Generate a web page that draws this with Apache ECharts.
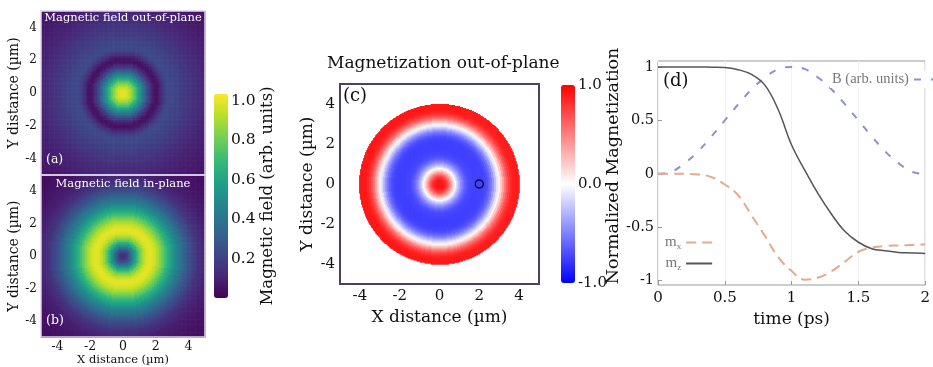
<!DOCTYPE html>
<html><head><meta charset="utf-8">
<script src="https://cdn.jsdelivr.net/npm/echarts@6/dist/echarts.min.js"></script>
<style>html,body{margin:0;padding:0;background:#fff}#c{width:933px;height:367px}</style>
</head><body><div id="c"></div>
<script>
// ---------- data ----------
const posTicks = [-4, -2, 0, 2, 4];
const fieldCbTicks = [0.2, 0.4, 0.6, 0.8, 1.0];
const magCbTicks = [-1, 0, 1];
const timeTicks = [0, 0.5, 1, 1.5, 2];
const magTicks = [-1, -0.5, 0, 0.5, 1];

const radialStep = 0.1;
const fieldOutOfPlane = [1.00,1.00,0.99,0.97,0.94,0.90,0.85,0.79,0.73,0.66,
  0.59,0.52,0.45,0.38,0.32,0.26,0.20,0.15,0.11,0.07,
  0.05,0.05,0.07,0.10,0.14,0.17,0.20,0.22,0.23,0.23,
  0.23,0.22,0.22,0.21,0.21,0.20,0.19,0.19,0.18,0.17,
  0.17,0.16,0.16,0.15,0.14,0.14,0.13,0.13,0.12,0.12,
  0.11,0.11,0.10,0.10,0.10,0.09,0.09,0.09,0.08,0.08,
  0.08,0.08,0.07,0.07,0.07,0.07,0.06,0.06,0.06,0.06,0.06,0.06];
const fieldInPlane = [0.12,0.13,0.16,0.21,0.27,0.35,0.43,0.52,0.60,0.68,
  0.75,0.82,0.87,0.92,0.95,0.98,0.99,1.00,0.99,0.97,
  0.95,0.92,0.89,0.85,0.81,0.77,0.73,0.69,0.65,0.61,
  0.58,0.54,0.50,0.47,0.44,0.41,0.38,0.35,0.32,0.30,
  0.27,0.25,0.23,0.21,0.19,0.17,0.15,0.14,0.13,0.12,
  0.11,0.10,0.09,0.09,0.08,0.08,0.07,0.07,0.06,0.06,
  0.06,0.05,0.05,0.05,0.05,0.04,0.04,0.04,0.04,0.04,0.04,0.04];
const magnetizationZ = [0.92,0.92,0.9,0.83,0.72,0.55,0.35,0.15,-0.02,-0.18,
  -0.33,-0.46,-0.56,-0.64,-0.69,-0.72,-0.73,-0.74,-0.75,-0.75,
  -0.75,-0.75,-0.74,-0.72,-0.68,-0.61,-0.52,-0.4,-0.25,-0.1,
  0.05,0.2,0.38,0.55,0.68,0.78,0.85,0.89,0.9,0.9,0.9];
const diskRadius = 4.0;
const probePoint = [[2, 0]];

// panel (d)
const time = [0,0.1,0.2,0.3,0.4,0.5,0.6,0.7,0.8,0.9,1.0,1.1,1.2,1.3,1.4,1.5,1.6,1.7,1.8,1.9,2.0];
const mz = [1,1,1,1,0.998,0.995,0.975,0.93,0.83,0.6,0.27,0.03,-0.19,-0.38,-0.54,-0.64,-0.7,-0.72,-0.735,-0.74,-0.745];
const mx = [0,0,0,-0.005,-0.03,-0.1,-0.2,-0.39,-0.58,-0.78,-0.91,-0.99,-0.97,-0.91,-0.82,-0.73,-0.69,-0.675,-0.67,-0.665,-0.66];
const bPulse = [0,0.02,0.1,0.21,0.35,0.5,0.65,0.79,0.9,0.98,1.0,0.98,0.9,0.79,0.65,0.5,0.35,0.21,0.1,0.02,0];

// ---------- build tables ----------
function radialCells(profile, half, cell, maxR) {
  const out = [];
  const n = Math.round(2 * half / cell);
  for (let i = 0; i < n; i++) for (let j = 0; j < n; j++) {
    const x = +(-half + (i + 0.5) * cell).toFixed(4);
    const y = +(-half + (j + 0.5) * cell).toFixed(4);
    const r = Math.hypot(x, y);
    if (maxR != null && r > maxR) continue;
    const k = Math.min(profile.length - 1, Math.round(r / radialStep));
    out.push([x, y, profile[k], cell]);
  }
  return out;
}
const zip = (a, b) => a.map((v, i) => [v, b[i]]);

const SERIF = 'DejaVu Serif';
const viridis = ['#440154','#482878','#3e4989','#31688e','#26828e','#1f9e89','#35b779','#6ece58','#b5de2b','#fde725'];

function cellItem(params, api) {
  const x = api.value(0), y = api.value(1), c = api.value(3);
  const p = api.coord([x - c / 2, y + c / 2]);
  const s = api.size([c, c]);
  return { type: 'rect', shape: { x: p[0], y: p[1], width: s[0] + 0.6, height: s[1] + 0.6 },
           style: { fill: api.visual('color') } };
}

const hid = { show: false };
const noLine = { show: false, onZero: false };
function posAxis(extra) {
  return Object.assign({
    type: 'value', min: -5, max: 5,
    axisLine: noLine, axisTick: hid, splitLine: hid,
    axisLabel: { customValues: posTicks, fontFamily: SERIF, color: '#111', fontSize: 12, margin: 4 },
    nameLocation: 'middle', nameTextStyle: { fontFamily: SERIF, color: '#111' }
  }, extra || {});
}

const option = {
  animation: false,
  backgroundColor: '#fff',
  title: [
    { text: 'Magnetic field out-of-plane', left: 123, top: 12, textAlign: 'center', padding: 0,
      textStyle: { color: '#fff', fontFamily: SERIF, fontSize: 11.5, fontWeight: 'normal' }, z: 10 },
    { text: 'Magnetic field in-plane', left: 123, top: 178, textAlign: 'center', padding: 0,
      textStyle: { color: '#fff', fontFamily: SERIF, fontSize: 11.5, fontWeight: 'normal' }, z: 10 },
    { text: '(a)', left: 46, top: 153, padding: 0,
      textStyle: { color: '#fff', fontFamily: SERIF, fontSize: 12.5, fontWeight: 'normal' }, z: 10 },
    { text: '(b)', left: 46, top: 314, padding: 0,
      textStyle: { color: '#fff', fontFamily: SERIF, fontSize: 12.5, fontWeight: 'normal' }, z: 10 },
    { text: 'Magnetization out-of-plane', left: 327, top: 55, padding: 0,
      textStyle: { color: '#111', fontFamily: SERIF, fontSize: 17, fontWeight: 'normal' } },
    { text: '(c)', left: 343, top: 87, padding: 0,
      textStyle: { color: '#111', fontFamily: SERIF, fontSize: 18, fontWeight: 'normal' }, z: 10 },
    { text: '(d)', left: 663, top: 72, padding: 0,
      textStyle: { color: '#111', fontFamily: SERIF, fontSize: 18, fontWeight: 'normal' }, z: 10 }
  ],
  grid: [
    { left: 41, top: 11, width: 164, height: 164, show: true, borderColor: '#ddd5ea', borderWidth: 1.5, z: 5 },
    { left: 41, top: 175, width: 164, height: 163, show: true, borderColor: '#ddd5ea', borderWidth: 1.5, z: 5 },
    { left: 340, top: 84, width: 199, height: 200, show: true, borderColor: '#4f4060', borderWidth: 2, z: 5 },
    { left: 658, top: 61, right: -1, height: 224, show: true, borderColor: '#9a9a9a', borderWidth: 1 },
    { left: 214, top: 94, width: 14, height: 204 },
    { left: 561, top: 85, width: 14, height: 198 }
  ],
  xAxis: [
    posAxis({ gridIndex: 0, axisLabel: { show: false } }),
    posAxis({ gridIndex: 1, name: 'X distance (µm)', nameGap: 15,
      axisLabel: { customValues: posTicks, fontFamily: SERIF, color: '#111', fontSize: 12.5, margin: 3 },
      nameTextStyle: { fontFamily: SERIF, color: '#111', fontSize: 11.5 } }),
    posAxis({ gridIndex: 2, name: 'X distance (µm)', nameGap: 18,
      axisLabel: { customValues: posTicks, fontFamily: SERIF, color: '#111', fontSize: 15, margin: 5 },
      nameTextStyle: { fontFamily: SERIF, color: '#111', fontSize: 17 } }),
    { gridIndex: 3, type: 'value', min: 0, max: 2,
      axisLine: noLine, axisTick: { show: true, inside: true, length: 4, customValues: timeTicks, lineStyle: { color: '#999' } },
      splitLine: { show: true, lineStyle: { color: '#f2f2f2' } },
      axisLabel: { customValues: timeTicks, fontFamily: SERIF, color: '#111', fontSize: 15, margin: 6, formatter: v => String(v) },
      name: 'time (ps)', nameLocation: 'middle', nameGap: 20,
      nameTextStyle: { fontFamily: SERIF, color: '#111', fontSize: 17 } },
    { gridIndex: 4, type: 'value', show: false, min: 0, max: 1 },
    { gridIndex: 5, type: 'value', show: false, min: 0, max: 1 }
  ],
  yAxis: [
    posAxis({ gridIndex: 0, name: 'Y distance (µm)', nameGap: 16,
      nameTextStyle: { fontFamily: SERIF, color: '#111', fontSize: 14 } }),
    posAxis({ gridIndex: 1, name: 'Y distance (µm)', nameGap: 16,
      nameTextStyle: { fontFamily: SERIF, color: '#111', fontSize: 14 } }),
    posAxis({ gridIndex: 2, name: 'Y distance (µm)', nameGap: 20,
      axisLabel: { customValues: posTicks, fontFamily: SERIF, color: '#111', fontSize: 15, margin: 5 },
      nameTextStyle: { fontFamily: SERIF, color: '#111', fontSize: 17 } }),
    { gridIndex: 3, type: 'value', min: -1.04, max: 1.056,
      axisLine: noLine, axisTick: { show: true, inside: true, length: 4, customValues: magTicks, lineStyle: { color: '#999' } },
      splitLine: hid,
      axisLabel: { customValues: magTicks, fontFamily: SERIF, color: '#111', fontSize: 14.5, margin: 4, formatter: v => String(v) },
      name: 'Normalized Magnetization', nameLocation: 'middle', nameGap: 29,
      nameTextStyle: { fontFamily: SERIF, color: '#111', fontSize: 17.5, padding: [0, 0, 0, 14] } },
    { gridIndex: 4, type: 'value', position: 'right', min: 0, max: 1.035,
      axisLine: hid, axisTick: hid, splitLine: hid,
      axisLabel: { customValues: fieldCbTicks, fontFamily: SERIF, color: '#111', fontSize: 15.5, margin: 3, formatter: v => v.toFixed(1) },
      name: 'Magnetic field (arb. units)', nameLocation: 'middle', nameGap: 30, nameRotate: 90,
      nameTextStyle: { fontFamily: SERIF, color: '#111', fontSize: 16.5 } },
    { gridIndex: 5, type: 'value', position: 'right', min: -1, max: 1,
      axisLine: hid, axisTick: hid, splitLine: hid,
      axisLabel: { customValues: magCbTicks, fontFamily: SERIF, color: '#111', fontSize: 15, margin: 3, formatter: v => v.toFixed(1) } }
  ],
  visualMap: [
    { type: 'continuous', min: 0, max: 1.035, dimension: 2, seriesIndex: [0, 1], calculable: false,
      inRange: { color: viridis }, left: 214, top: 94, itemWidth: 14, itemHeight: 204, padding: 0,
      hoverLink: false, textStyle: { fontSize: 0 } },
    { type: 'continuous', min: -1, max: 1, dimension: 2, seriesIndex: [2], calculable: false,
      inRange: { color: ['#0000ff', '#ffffff', '#ff0000'] }, left: 561, top: 85, itemWidth: 14, itemHeight: 198, padding: 0,
      hoverLink: false, textStyle: { fontSize: 0 } }
  ],
  legend: [
    { data: ['B (arb. units)'], left: 830, top: 71, align: 'right', itemWidth: 26, itemHeight: 10,
      itemStyle: { opacity: 0 },
      backgroundColor: '#fff', padding: [1, 2], textStyle: { fontFamily: 'Liberation Serif', fontSize: 14.5, color: '#777' } },
    { data: ['mx', 'mz'], orient: 'vertical', left: 665, top: 235, align: 'right', itemWidth: 26, itemHeight: 10, itemGap: 5,
      padding: 0, itemStyle: { opacity: 0 },
      formatter: n => n === 'mx' ? '{m|m}{s|x}' : '{m|m}{s|z}',
      textStyle: { color: '#777', rich: {
        m: { fontFamily: 'Liberation Serif', fontSize: 15, color: '#777' },
        s: { fontFamily: 'Liberation Serif', fontSize: 9, color: '#777', padding: [8, 0, 0, 0] } } } }
  ],
  series: [
    { type: 'custom', xAxisIndex: 0, yAxisIndex: 0, data: radialCells(fieldOutOfPlane, 5, 0.1), encode: { x: 0, y: 1 },
      renderItem: cellItem, silent: true, clip: true },
    { type: 'custom', xAxisIndex: 1, yAxisIndex: 1, data: radialCells(fieldInPlane, 5, 0.1), encode: { x: 0, y: 1 },
      renderItem: cellItem, silent: true, clip: true },
    { type: 'custom', xAxisIndex: 2, yAxisIndex: 2, data: radialCells(magnetizationZ, 5, 0.05, diskRadius), encode: { x: 0, y: 1 },
      renderItem: cellItem, silent: true, clip: true },
    { type: 'scatter', xAxisIndex: 2, yAxisIndex: 2, data: probePoint, symbol: 'circle', symbolSize: 8, z: 6,
      itemStyle: { color: 'rgba(0,0,0,0)', borderColor: '#000', borderWidth: 1.5 }, silent: true },
    { name: 'B (arb. units)', type: 'line', xAxisIndex: 3, yAxisIndex: 3, data: zip(time, bPulse), symbol: 'none', smooth: 0.4,
      lineStyle: { color: '#8c90d4', width: 2, type: [7, 10] }, itemStyle: { color: '#8c90d4' } },
    { name: 'mx', type: 'line', xAxisIndex: 3, yAxisIndex: 3, data: zip(time, mx), symbol: 'none', smooth: 0.4,
      lineStyle: { color: '#e6a98a', width: 2, type: [10, 6] }, itemStyle: { color: '#e6a98a' } },
    { name: 'mz', type: 'line', xAxisIndex: 3, yAxisIndex: 3, data: zip(time, mz), symbol: 'none', smooth: 0.4,
      lineStyle: { color: '#555', width: 1.5 }, itemStyle: { color: '#555' } }
  ]
};
const chart = echarts.init(document.getElementById('c'), null, { renderer: 'canvas' });
chart.setOption(option);
</script></body></html>
